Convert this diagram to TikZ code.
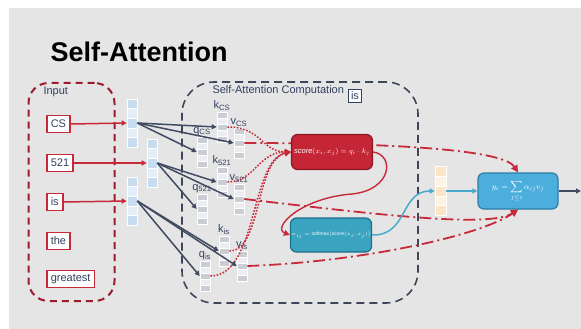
\documentclass[tikz,border=0pt]{standalone}
\usepackage{amsmath}
\usepackage{fontspec}
\setmainfont{Liberation Sans}
\usepackage{xcolor}
\usepackage{tikz}
\usetikzlibrary{positioning,arrows.meta}

\definecolor{slidebg}{HTML}{E5E5E5}
\definecolor{inknavy}{HTML}{33415F}
\definecolor{wordred}{HTML}{C62A3A}
\definecolor{groupred}{HTML}{9C1C2D}
\definecolor{slate}{HTML}{414B60}
\definecolor{groupslate}{HTML}{3E4659}
\definecolor{scorefill}{HTML}{C42636}
\definecolor{scoreedge}{HTML}{8E1824}
\definecolor{softfill}{HTML}{3AA3BF}
\definecolor{softedge}{HTML}{1F7189}
\definecolor{outfill}{HTML}{4CAEDD}
\definecolor{outedge}{HTML}{2D7DA6}
\definecolor{flowblue}{HTML}{4AAACB}
\definecolor{embdark}{HTML}{C7DDEF}
\definecolor{emblight}{HTML}{E3EEF8}
\definecolor{projdark}{HTML}{CBCDD4}
\definecolor{projlight}{HTML}{ECEDF1}
\definecolor{attdark}{HTML}{FBE5C6}
\definecolor{attlight}{HTML}{FDF3E3}

\begin{document}
\begin{tikzpicture}[x=1pt,y=-1pt,
    every node/.style={font=\fontsize{11}{13}\selectfont,text=inknavy},
    word/.style={rectangle,draw=wordred,line width=1.6pt,fill=white,inner xsep=4pt,inner ysep=0pt,minimum height=17pt},
    embcell/.style={rectangle,draw=white,line width=0.6pt,minimum width=10pt,minimum height=9.6pt,inner sep=0pt},
    projcell/.style={rectangle,draw=white,line width=0.6pt,minimum width=10pt,minimum height=6pt,inner sep=0pt},
    attcell/.style={rectangle,draw=white,line width=0.6pt,minimum width=11pt,minimum height=9.8pt,inner sep=0pt},
    vlab/.style={inner sep=0pt},
    inputgroup/.style={rectangle,draw=groupred,line width=2pt,dash pattern=on 7pt off 5pt,rounded corners=20pt,minimum width=86pt,minimum height=218pt},
    compgroup/.style={rectangle,draw=groupslate,line width=1.6pt,dash pattern=on 8pt off 5pt,rounded corners=32pt,minimum width=236pt,minimum height=221pt},
    opbox/.style={rectangle,rounded corners=6pt,line width=1.2pt,minimum width=81pt,minimum height=35pt,text=white,inner sep=1pt},
    feed/.style={line width=1.5pt,draw=wordred,-{Triangle[length=5pt,width=5pt]}},
    proj/.style={line width=1.5pt,draw=slate,-{Triangle[length=5pt,width=5pt]}},
    match/.style={line width=1.5pt,draw=wordred,dash pattern=on 1.6pt off 1.6pt,-{Triangle[length=6pt,width=6pt]}},
    relay/.style={line width=1.4pt,draw=wordred,-{Triangle[length=6pt,width=6pt]}},
    carry/.style={line width=1.8pt,draw=wordred,dash pattern=on 12pt off 4pt on 2pt off 4pt,-{Triangle[length=7pt,width=7pt]}},
    flow/.style={line width=1.5pt,draw=flowblue,-{Triangle[length=5pt,width=5pt]}},
]
\useasboundingbox (0,0) rectangle (581,329);
\fill[slidebg] (9,8) rectangle (581,329);

\node[anchor=base west,text=black,font=\fontsize{27}{30}\selectfont\bfseries] (title) at (47,62) {Self-Attention};

\node[inputgroup] (inputs) at (71.5,192) {};
\node[compgroup] (comp) at (300,192.5) {};
\node[anchor=west] (inlab) at (40,92) {Input};
\node[anchor=west] (complab) at (209,91) {Self-Attention Computation};
\node[draw=inknavy,line width=1.5pt,fill=white,inner sep=2.5pt] (query) at (355,96) {is};

\node[word,anchor=west] (wCS) at (46,124) {CS};
\node[word,anchor=west] (w521) at (46,163) {521};
\node[word,anchor=west] (wis) at (46,202) {is};
\node[word,anchor=west] (wthe) at (46,241) {the};
\node[word,anchor=west] (wgreatest) at (46,279) {greatest};

\foreach \n/\x/\y in {CS/132/123, 521/152/163, is/132/201}{
  \foreach \i/\c in {1/embdark,2/emblight,3/embdark,4/emblight,5/embdark}
    \node[embcell,fill=\c] (emb\n-\i) at (\x,{\y+(\i-3)*9.6}) {};
}

\foreach \n/\x/\y in {kCS/222/127, qCS/202/152, vCS/239/143, k521/222/182, q521/202/209, v521/239/199, kis/224/251, qis/205/276, vis/242/266}{
  \foreach \i/\c in {1/projdark,2/projlight,3/projdark,4/projlight,5/projdark}
    \node[projcell,fill=\c] (\n-\i) at (\x,{\y+(\i-3)*6}) {};
}
\foreach \n/\s/\t in {kCS/k/CS, qCS/q/CS, vCS/v/CS, k521/k/521, q521/q/521, v521/v/521, kis/k/is, qis/q/is, vis/v/is}
  \node[vlab,above=1pt of \n-1] (\n-lab) {\s\textsubscript{\t}};

\foreach \i/\c in {1/attdark,2/attlight,3/attdark,4/attlight,5/attdark}
  \node[attcell,fill=\c] (att-\i) at (440.5,{191+(\i-3)*9.8}) {};

\node[opbox,fill=outfill,draw=outedge,minimum width=80pt,minimum height=36pt,font=\fontsize{8}{9}\selectfont] (out) at (518,191)
  {$y_i=\displaystyle\sum_{j\le i}\alpha_{ij}v_j$};
\coordinate (exit) at (581,191);

\draw[carry] (vCS-3.east) .. controls (420,143) and (505,152) .. (out.north);
\draw[carry] (v521-3.east) .. controls (380,215) and (490,228) .. (out.south);
\draw[carry] (vis-3.east) .. controls (360,262) and (480,236) .. (out.south);

\node[opbox,fill=scorefill,draw=scoreedge,font=\fontsize{7.5}{9}\selectfont] (score) at (332,152)
  {$\mathit{score}(x_i,x_j)=q_i\cdot k_j$};
\node[opbox,fill=softfill,draw=softedge,minimum height=34pt,font=\fontsize{5}{6}\selectfont] (soft) at (331,235)
  {$\alpha_{ij}=\mathrm{softmax}\big(\mathit{score}(x_i,x_j)\big)$};

\draw[match] (kCS-3.east) .. controls (262,127) and (262,152) .. (score.west);
\draw[match] (k521-3.east) .. controls (255,182) and (258,152) .. (score.west);
\draw[match] (kis-3.east) .. controls (262,251) and (255,160) .. (score.west);
\draw[match] (qis-3.east) .. controls (258,276) and (250,160) .. (score.west);
\draw[relay] (score.east) .. controls (395,155) and (392,190) .. (352,194) .. controls (300,198) and (272,228) .. (soft.west);

\draw[flow] (soft.east) .. controls (408,236) and (400,191) .. (att-3.west);
\draw[flow] (att-3.east) -- (out.west);
\draw[proj] (out.east) -- (exit);

\foreach \e in {CS,521,is}{
  \draw[proj] (emb\e-3.east) -- (k\e-3.west);
  \draw[proj] (emb\e-3.east) -- (q\e-3.west);
  \draw[proj] (emb\e-3.east) -- (v\e-3.west);
  \draw[feed] (w\e.east) -- (emb\e-3.west);
}
\end{tikzpicture}
\end{document}
